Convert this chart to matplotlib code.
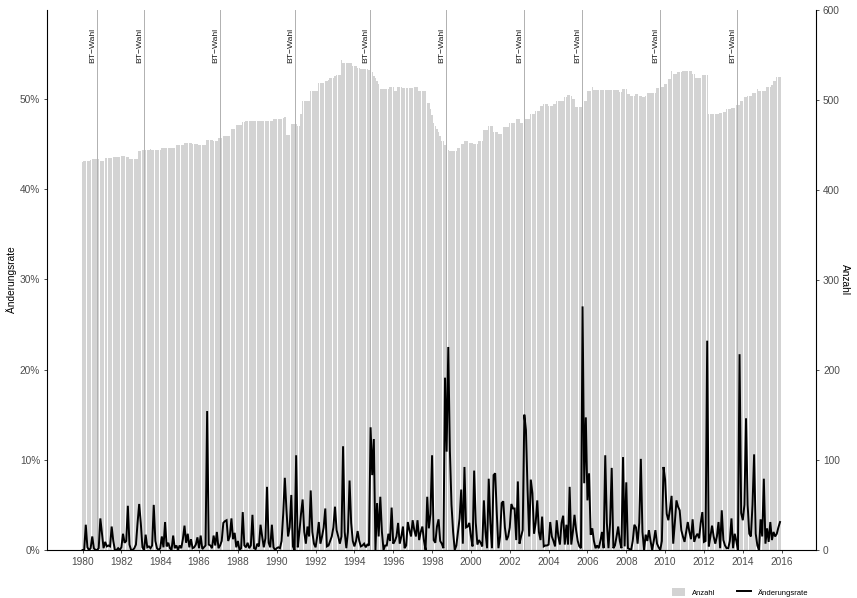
import numpy as np
import matplotlib
matplotlib.use("Agg")
import matplotlib.pyplot as plt
from matplotlib.patches import Patch
from matplotlib.lines import Line2D

plt.rcParams['font.family'] = ['Liberation Sans', 'DejaVu Sans']

start_year = 1980

# monthly counts (right axis), Jan 1980 .. Dec 2015
anzahl = [
    431, 432, 432, 432, 432, 433, 435, 435, 435, 435, 435, 432,  # 1980
    432, 432, 436, 436, 436, 436, 436, 437, 437, 437, 437, 437,  # 1981
    438, 438, 438, 437, 437, 435, 434, 434, 434, 434, 434, 443,  # 1982
    443, 444, 445, 445, 445, 445, 446, 445, 445, 445, 445, 445,  # 1983
    445, 447, 447, 447, 447, 447, 447, 447, 447, 447, 450, 450,  # 1984
    450, 450, 450, 452, 452, 452, 452, 452, 451, 451, 451, 451,  # 1985
    450, 450, 450, 450, 450, 456, 456, 456, 456, 455, 455, 455,  # 1986
    458, 458, 458, 460, 460, 460, 460, 460, 468, 468, 468, 472,  # 1987
    472, 472, 472, 476, 476, 477, 477, 477, 477, 477, 477, 477,  # 1988
    477, 477, 477, 477, 477, 477, 477, 477, 477, 477, 479, 479,  # 1989
    479, 479, 479, 479, 480, 481, 461, 461, 461, 473, 473, 473,  # 1990
    473, 471, 471, 485, 499, 499, 499, 499, 499, 510, 510, 510,  # 1991
    510, 510, 519, 519, 519, 519, 521, 521, 522, 524, 524, 524,  # 1992
    527, 528, 528, 528, 545, 541, 541, 541, 541, 541, 541, 538,  # 1993
    538, 538, 536, 536, 535, 535, 535, 534, 534, 533, 531, 531,  # 1994
    527, 524, 521, 518, 512, 512, 512, 512, 512, 512, 514, 514,  # 1995
    514, 510, 510, 515, 515, 515, 513, 513, 513, 513, 513, 513,  # 1996
    513, 514, 514, 514, 510, 510, 510, 510, 510, 497, 497, 490,  # 1997
    483, 475, 471, 468, 464, 460, 455, 454, 450, 448, 445, 443,  # 1998
    443, 443, 443, 443, 447, 447, 451, 451, 455, 455, 455, 452,  # 1999
    452, 452, 451, 451, 451, 455, 455, 455, 467, 467, 467, 471,  # 2000
    471, 471, 464, 464, 464, 462, 462, 462, 470, 470, 470, 470,  # 2001
    474, 474, 474, 474, 479, 479, 479, 475, 475, 475, 479, 479,  # 2002
    479, 485, 485, 485, 488, 488, 488, 493, 493, 496, 496, 496,  # 2003
    493, 493, 493, 496, 496, 499, 499, 499, 499, 499, 503, 503,  # 2004
    506, 506, 504, 501, 501, 492, 492, 492, 492, 492, 499, 499,  # 2005
    510, 510, 510, 515, 511, 511, 511, 511, 511, 511, 511, 511,  # 2006
    511, 511, 511, 511, 511, 511, 511, 511, 509, 509, 512, 512,  # 2007
    512, 507, 507, 505, 505, 505, 507, 507, 504, 504, 503, 503,  # 2008
    505, 508, 508, 508, 508, 508, 508, 513, 513, 513, 514, 514,  # 2009
    518, 518, 523, 523, 532, 529, 529, 529, 531, 531, 531, 532,  # 2010
    532, 532, 532, 532, 532, 529, 529, 524, 524, 524, 524, 528,  # 2011
    528, 528, 528, 484, 484, 484, 484, 484, 484, 484, 486, 486,  # 2012
    487, 487, 490, 490, 490, 491, 491, 491, 494, 494, 494, 499,  # 2013
    499, 503, 503, 505, 505, 505, 508, 508, 508, 512, 510, 510,  # 2014
    510, 510, 510, 515, 515, 515, 517, 521, 521, 526, 526, 526,  # 2015
]

# monthly rate of change in percent (left axis)
rate_pct = [
    0, 0, 2.8, 0.3, 0, 0.2, 1.5, 0.2, 0, 0, 0.2, 3.5,             # 1980
    1.8, 0.2, 0.9, 0.4, 0.5, 0.4, 2.6, 1.0, 0, 0, 0.2, 0,         # 1981
    0.3, 1.8, 0.8, 1.0, 4.9, 0.6, 0, 0, 0.2, 0.6, 3.0, 5.1,       # 1982
    3.0, 0.3, 0, 1.7, 0.3, 0.4, 0.2, 0.5, 5.0, 1.0, 0.2, 0,       # 1983
    0.2, 1.5, 0.3, 3.1, 0.4, 0.8, 0.2, 0, 1.6, 0.2, 0.5, 0,       # 1984
    0.5, 0.2, 1.2, 2.7, 0.8, 1.8, 0.3, 1.2, 0.2, 0.3, 0.6, 1.4,   # 1985
    0.2, 1.6, 0.1, 0.3, 0.5, 15.4, 0.6, 0.5, 0.2, 1.6, 0.5, 2.0,  # 1986
    0.2, 0.5, 1.0, 3.0, 3.2, 3.3, 1.0, 1.5, 3.5, 1.2, 1.9, 0.3,   # 1987
    1.0, 0, 0.2, 4.2, 0.5, 0.3, 0.8, 0.2, 0.5, 3.9, 0.2, 0.1,     # 1988
    0.7, 0.4, 2.8, 1.5, 0.3, 1.3, 7.0, 0.8, 0.3, 2.8, 0.3, 0,     # 1989
    0.2, 0.3, 0.2, 1.0, 4.0, 8.0, 4.5, 1.5, 2.5, 6.1, 0.4, 0,     # 1990
    10.5, 0.3, 2.0, 4.0, 5.6, 2.0, 0.7, 2.6, 1.5, 6.6, 2.0, 0.7,  # 1991
    0.3, 1.5, 3.1, 0.7, 1.5, 2.5, 4.6, 0.4, 0.5, 1.0, 1.5, 2.5,   # 1992
    4.8, 2.2, 1.5, 0.7, 1.5, 11.5, 2.0, 0.2, 2.0, 7.7, 3.0, 1.0,  # 1993
    0.4, 1.0, 2.1, 1.0, 0.4, 0.5, 0.7, 0.3, 0.6, 0.5, 13.6, 8.3,  # 1994
    12.3, 0, 5.2, 1.5, 5.9, 2.0, 0, 0.5, 0.5, 1.8, 1.0, 4.7,      # 1995
    0.7, 1.0, 1.5, 3.0, 0.7, 1.5, 2.6, 0.2, 0.5, 3.1, 2.2, 1.5,   # 1996
    3.3, 2.2, 1.5, 3.3, 1.1, 2.0, 2.6, 1.0, 0, 5.9, 2.4, 4.0,     # 1997
    10.5, 1.1, 0.8, 2.6, 3.4, 1.0, 0.7, 0.2, 19.1, 10.9, 22.5, 11.0,  # 1998
    5.0, 2.0, 0, 0.5, 2.0, 3.5, 6.7, 0.7, 9.2, 2.5, 2.6, 3.0,     # 1999
    1.5, 0.4, 8.8, 3.0, 0.6, 1.1, 0.8, 0.4, 5.5, 2.0, 0.2, 7.9,   # 2000
    3.0, 0.2, 8.3, 8.5, 4.0, 0.2, 1.5, 5.2, 5.4, 2.5, 1.1, 1.5,   # 2001
    2.5, 5.1, 4.6, 4.6, 1.1, 7.6, 0.7, 1.5, 2.2, 15.0, 13.3, 6.7, # 2002
    1.5, 7.8, 6.3, 1.8, 3.0, 5.5, 2.0, 1.1, 3.7, 0.4, 0.5, 0.5,   # 2003
    0.6, 3.1, 1.5, 1.0, 0.4, 3.3, 1.5, 0.6, 3.0, 3.8, 0.6, 2.8,   # 2004
    0.6, 7.0, 0.6, 2.0, 3.9, 2.2, 1.0, 0.4, 0.2, 27.0, 7.4, 14.7, # 2005
    5.5, 8.5, 1.7, 2.4, 1.0, 0.2, 0.5, 0.2, 1.0, 2.0, 0.2, 10.5,  # 2006
    3.0, 0.2, 3.0, 9.1, 0.2, 0.5, 1.5, 2.6, 1.0, 0.2, 10.3, 0.4,  # 2007
    7.5, 0.2, 0.1, 0, 1.0, 2.8, 2.5, 0.7, 3.0, 10.1, 2.0, 0,      # 2008
    1.7, 1.0, 2.2, 1.0, 0, 1.0, 2.2, 0.7, 0.3, 0, 1.0, 9.2,       # 2009
    7.8, 4.0, 3.3, 4.5, 6.0, 0.7, 3.0, 5.5, 4.8, 4.4, 2.2, 1.5,   # 2010
    0.9, 2.0, 3.1, 2.0, 1.2, 3.4, 0.9, 1.5, 1.8, 1.3, 3.0, 4.2,   # 2011
    0.9, 1.0, 23.2, 0.4, 1.5, 2.7, 1.5, 0.7, 1.5, 3.1, 0.2, 4.4,  # 2012
    1.1, 0.5, 0.2, 0.2, 1.0, 3.5, 0.2, 1.8, 1.0, 0, 21.7, 4.1,    # 2013
    3.3, 5.0, 14.6, 5.0, 1.8, 1.5, 5.0, 10.6, 1.8, 0.5, 0, 3.4,   # 2014
    1.5, 7.9, 0.7, 2.4, 0.9, 3.1, 1.1, 2.0, 1.5, 1.8, 2.5, 3.1,   # 2015
]

# Bundestag election dates (decimal years)
bt_wahl = [1980.76, 1983.18, 1987.07, 1990.92, 1994.79,
           1998.74, 2002.72, 2005.71, 2009.74, 2013.72]
bt_label = "BT\u2212Wahl"

x_ticks = list(range(1980, 2017, 2))
left_ticks = [0.0, 0.1, 0.2, 0.3, 0.4, 0.5]
left_labels = ["0%", "10%", "20%", "30%", "40%", "50%"]
right_ticks = [0, 100, 200, 300, 400, 500, 600]

months = np.arange(len(anzahl))
xpos = start_year + months / 12.0
rate = np.array(rate_pct) / 100.0

W, H = 857, 598
fig = plt.figure(figsize=(W / 100, H / 100), dpi=100)
ax = fig.add_axes([47 / W, 48 / H, (816 - 47) / W, 540 / H])
ax2 = ax.twinx()

ax2.bar(xpos, anzahl, width=0.85 / 12, color='#D3D3D3', linewidth=0, zorder=1)
ax.set_zorder(ax2.get_zorder() + 1)
ax.patch.set_visible(False)

for d in bt_wahl:
    ax.axvline(d, color='#B0B0B0', lw=0.7, zorder=2)
    ax.text(d - 0.04, 0.934, bt_label, rotation=90, ha='right', va='center',
            fontsize=6.1, color='#1a1a1a', transform=ax.get_xaxis_transform(), zorder=4)

ax.plot(xpos, rate, color='black', lw=1.4, zorder=3, solid_joinstyle='miter')

ax.set_xlim(1978.17, 2017.77)
ax.set_ylim(0, 0.5985)
ax2.set_ylim(0, 600)

ax.set_xticks(x_ticks)
ax.set_xticklabels([str(v) for v in x_ticks])
ax.set_yticks(left_ticks)
ax.set_yticklabels(left_labels)
ax2.set_yticks(right_ticks)
ax2.set_yticklabels([str(v) for v in right_ticks])

for a in (ax, ax2):
    a.tick_params(length=2.5, width=0.6, color='#333333', labelsize=7.3,
                  labelcolor='#4D4D4D', pad=2.5)
    for s in a.spines.values():
        s.set_visible(False)

ax.spines['left'].set_visible(True)
ax.spines['bottom'].set_visible(True)
ax2.spines['right'].set_visible(True)
for s in (ax.spines['left'], ax.spines['bottom'], ax2.spines['right']):
    s.set_color('black')
    s.set_linewidth(0.8)

fig.text(12 / W, 1 - 280 / H, "Änderungsrate", rotation=90, ha='center', va='center',
         fontsize=7.3, color='black')
fig.text(845 / W, 1 - 280 / H, "Anzahl", rotation=270, ha='center', va='center',
         fontsize=7.3, color='black')

handles = [Patch(facecolor='#D3D3D3', edgecolor='none'),
           Line2D([], [], color='black', lw=1.4)]
fig.legend(handles, ["Anzahl", "Änderungsrate"], loc='center',
           bbox_to_anchor=(740 / W, 1 - 592.5 / H), ncol=2, frameon=False,
           fontsize=5.5, handlelength=1.8, handleheight=1.2, handletextpad=0.9,
           columnspacing=2.8, borderaxespad=0, borderpad=0)

fig.savefig("out.png", dpi=100)
